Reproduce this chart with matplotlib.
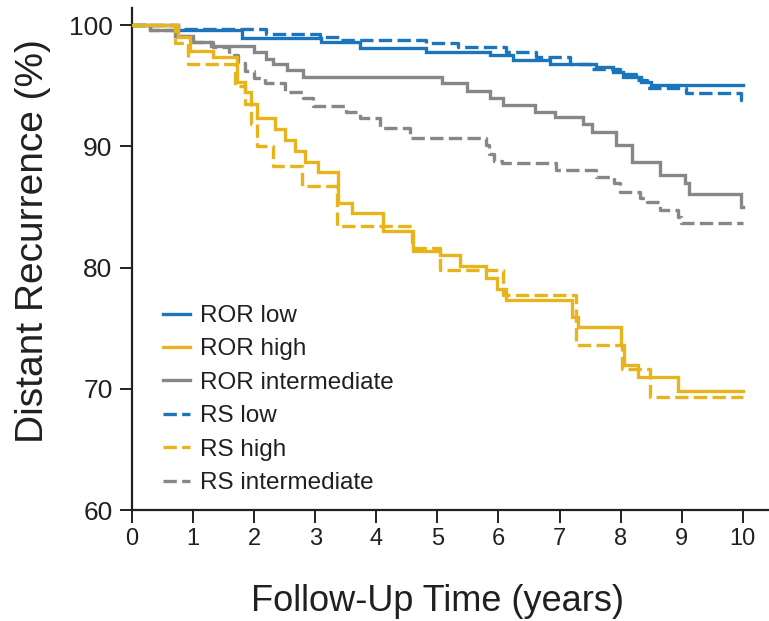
import matplotlib
matplotlib.use("Agg")
import matplotlib.pyplot as plt

# Kaplan-Meier style step curves: (years, % free of distant recurrence)
ror_low_t = [0, 0.75, 1.8, 3.1, 3.73, 4.82, 5.86, 6.24, 6.84, 7.6, 7.87, 8.04, 8.34, 8.5, 10]
ror_low_s = [100, 99.6, 98.9, 98.6, 98.1, 97.8, 97.5, 97.1, 96.8, 96.5, 96.15, 95.7, 95.3, 95.05, 95.05]

rs_low_t = [0, 0.75, 2.2, 3.08, 3.4, 4.82, 5.34, 6.13, 6.62, 7.17, 7.5, 7.99, 8.26, 8.43, 9.07, 9.97, 10]
rs_low_s = [100, 99.7, 99.3, 99.0, 98.8, 98.5, 98.2, 97.8, 97.4, 96.8, 96.4, 96.0, 95.5, 94.8, 94.4, 93.8, 93.8]

ror_int_t = [0, 0.3, 0.7, 1.0, 1.3, 2.0, 2.2, 2.31, 2.53, 2.8, 5.07, 5.48, 5.86, 6.07, 6.6, 6.92,
             7.38, 7.53, 7.93, 8.18, 8.64, 9.05, 9.12, 9.97, 10]
ror_int_s = [100, 99.6, 99.1, 98.6, 98.3, 97.8, 97.2, 96.8, 96.3, 95.7, 95.2, 94.6, 93.95, 93.4, 92.85, 92.4,
             91.8, 91.2, 90.1, 88.7, 87.6, 87.0, 86.1, 85.0, 85.0]

rs_int_t = [0, 0.3, 0.7, 1.0, 1.33, 1.58, 1.74, 1.85, 2.0, 2.18, 2.5, 2.8, 2.97, 3.51, 3.73, 4.06, 4.55,
            5.8, 5.85, 5.92, 6.05, 6.95, 7.6, 7.9, 7.99, 8.31, 8.43, 8.64, 8.94, 8.99, 10]
rs_int_s = [100, 99.6, 99.1, 98.6, 98.2, 97.5, 96.9, 96.2, 95.6, 95.25, 94.5, 93.95, 93.3, 92.85, 92.3, 91.5, 90.7,
            90.1, 89.4, 88.8, 88.6, 88.05, 87.5, 86.95, 86.25, 85.7, 85.4, 84.75, 84.2, 83.7, 83.7]

ror_high_t = [0, 0.76, 0.95, 1.33, 1.72, 1.85, 1.95, 2.04, 2.34, 2.5, 2.67, 2.83, 3.05, 3.37, 3.6, 4.11,
              4.6, 5.04, 5.37, 5.8, 5.97, 6.13, 7.2, 7.3, 8.01, 8.06, 8.28, 8.94, 10]
ror_high_s = [100, 99.0, 97.9, 97.4, 95.3, 94.5, 93.5, 92.3, 91.4, 90.5, 89.6, 88.7, 87.9, 85.3, 84.5, 83.0,
              81.4, 81.0, 80.1, 79.1, 78.2, 77.3, 75.9, 75.1, 73.6, 72.0, 71.0, 69.8, 69.8]

rs_high_t = [0, 0.7, 0.92, 1.69, 1.85, 1.95, 2.05, 2.31, 2.78, 3.35, 4.58, 5.04, 6.07, 7.27, 8.03, 8.48, 10]
rs_high_s = [100, 98.5, 96.8, 95.0, 93.5, 91.8, 90.0, 88.4, 86.7, 83.4, 81.6, 79.8, 77.7, 73.6, 71.6, 69.3, 69.3]

x_ticks = list(range(0, 11))
y_ticks = [60, 70, 80, 90, 100]

blue = "#1b75bc"
gold = "#e8b41b"
gray = "#878787"
ink = "#231f20"
dash = (0, (4.0, 1.6))

narrow = ["Liberation Sans Narrow", "Liberation Sans"]
plt.rcParams["font.family"] = ["Liberation Sans", "DejaVu Sans"]

fig = plt.figure(figsize=(7.69, 6.21), dpi=100)
ax = fig.add_axes([0.1717, 0.1787, 0.8283, 0.8083])

curves = [
    ("ROR low", ror_low_t, ror_low_s, blue, "-", 3),
    ("ROR high", ror_high_t, ror_high_s, gold, "-", 5),
    ("ROR intermediate", ror_int_t, ror_int_s, gray, "-", 2),
    ("RS low", rs_low_t, rs_low_s, blue, dash, 3),
    ("RS high", rs_high_t, rs_high_s, gold, dash, 4),
    ("RS intermediate", rs_int_t, rs_int_s, gray, dash, 1),
]
for label, t, s, c, ls, z in curves:
    ax.step(t, s, where="post", color=c, linestyle=ls, linewidth=2.4,
            label=label, zorder=z, solid_joinstyle="miter")

ax.set_xlim(0, 10.43)
ax.set_ylim(60, 101.4)
ax.set_xticks(x_ticks)
ax.set_yticks(y_ticks)
ax.set_xticklabels([str(v) for v in x_ticks], fontfamily=narrow, fontsize=17, color=ink)
ax.set_yticklabels([str(v) for v in y_ticks], fontsize=19, color=ink)
ax.tick_params(direction="out", length=9, width=1.4, color=ink)
ax.tick_params(axis="x", pad=4)
ax.tick_params(axis="y", pad=5)

for side in ["top", "right"]:
    ax.spines[side].set_visible(False)
for side in ["left", "bottom"]:
    ax.spines[side].set_linewidth(1.6)
    ax.spines[side].set_color(ink)

ax.set_xlabel("Follow-Up Time (years)", fontfamily=narrow, fontsize=26, color=ink)
ax.xaxis.set_label_coords(0.479, -0.148)
ax.set_ylabel("Distant Recurrence (%)", fontfamily=narrow, fontsize=28, color=ink)
ax.yaxis.set_label_coords(-0.128, 0.535)

leg = ax.legend(loc="upper left", bbox_to_anchor=(163 / 769, 1 - 305 / 621),
                bbox_transform=fig.transFigure, frameon=False, fontsize=17.5,
                handlelength=1.1, handletextpad=0.42, labelspacing=0.47, borderpad=0,
                borderaxespad=0)
for txt in leg.get_texts():
    txt.set_color(ink)

fig.savefig("out.png", dpi=100)
